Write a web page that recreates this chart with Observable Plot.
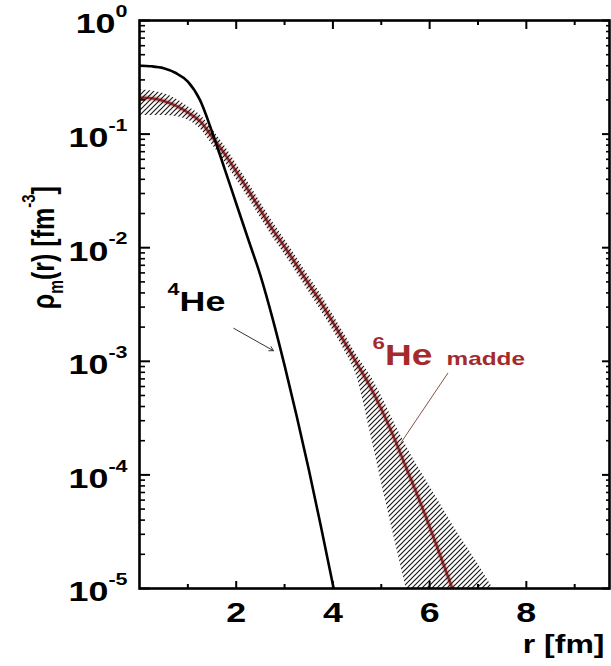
<!DOCTYPE html>
<html>
<head>
<meta charset="utf-8">
<script src="https://cdn.jsdelivr.net/npm/d3@7"></script>
<script src="https://cdn.jsdelivr.net/npm/@observablehq/plot@0.6"></script>
<style>
  body { margin: 0; background: #fff; }
  #chart svg { display: block; }
</style>
</head>
<body>
<div id="chart"></div>
<script>
// Matter density of 4He (r in fm, rho in fm^-3)
const he4R   = [0, 0.25, 0.5, 0.75, 1.0, 1.25, 1.5, 1.75, 2.0, 2.25, 2.5, 2.75, 3.0, 3.25, 3.5, 3.75, 4.0, 4.25];
const he4Rho = [0.40, 0.395, 0.38, 0.345, 0.29, 0.20, 0.105, 0.051, 0.0245, 0.0118, 0.0057, 0.0024,
                0.00092, 0.00033, 0.000112, 0.0000355, 0.0000108, 0.0000031];

// Matter density of 6He
const he6R   = [0, 0.25, 0.5, 0.75, 1.0, 1.25, 1.5, 1.75, 2.0, 2.25, 2.5, 2.75, 3.0, 3.25,
                3.5, 3.75, 4.0, 4.25, 4.5, 4.75, 5.0, 5.25, 5.5, 5.75, 6.0, 6.25, 6.5, 6.75];
const he6Rho = [0.21, 0.207, 0.196, 0.178, 0.155, 0.13, 0.095, 0.068, 0.047, 0.032, 0.0215, 0.0145,
                0.0102, 0.0070, 0.0048, 0.0033, 0.0022, 0.00145, 0.00095, 0.00062, 0.00038, 0.00022,
                0.00012, 0.000066, 0.000035, 0.000018, 0.0000092, 0.0000047];

// Uncertainty band of the 6He density
const bandR  = [0, 0.25, 0.5, 0.75, 1.0, 1.25, 1.5, 1.75, 2.0, 2.25, 2.5, 2.75, 3.0, 3.25, 3.5, 3.75,
                4.0, 4.25, 4.5, 4.75, 5.0, 5.25, 5.5, 5.75, 6.0, 6.25, 6.5, 6.75, 7.0, 7.25, 7.5];
const bandLo = [0.145, 0.146, 0.146, 0.143, 0.133, 0.112, 0.081, 0.058, 0.040, 0.0274, 0.0184, 0.0124,
                0.0087, 0.0060, 0.0041, 0.0028, 0.00188, 0.00122, 0.00072, 0.00026, 0.000087, 0.00003,
                0.0000107, 0.0000037, 0.0000013, 4.5e-7, 1.5e-7, 5e-8, 1.7e-8, 6e-9, 2e-9];
const bandHi = [0.245, 0.24, 0.228, 0.205, 0.175, 0.148, 0.111, 0.080, 0.055, 0.0374, 0.0252, 0.0170,
                0.0119, 0.0082, 0.0056, 0.0039, 0.00258, 0.0017, 0.00112, 0.00078, 0.0005, 0.0003,
                0.000185, 0.00012, 0.00008, 0.000053, 0.000035, 0.000024, 0.0000165, 0.000011, 0.0000076];

// Axis ticks
const xMajor = [2, 4, 6, 8];
const xMinor = [1, 3, 5, 7, 9];
const yMajor = [1e-5, 1e-4, 1e-3, 1e-2, 1e-1, 1];
const yMinor = [-5, -4, -3, -2, -1].flatMap(e => [2, 3, 4, 5, 6, 7, 8, 9].map(k => k * 10 ** e));

const he4 = he4R.map((r, i) => ({r, rho: he4Rho[i]}));
const he6 = he6R.map((r, i) => ({r, rho: he6Rho[i]}));
const band = bandR.map((r, i) => ({r, lo: bandLo[i], hi: bandHi[i]}));

const red = "#a52a2c";
const noLabel = () => "";
const curve = "monotone-x";

const chart = Plot.plot({
  width: 611,
  height: 666,
  marginLeft: 139,
  marginRight: 2,
  marginTop: 20,
  marginBottom: 78,
  style: {fontFamily: "'Liberation Sans', Arial, sans-serif", background: "#fff", color: "#000"},
  x: {domain: [0, 9.72], axis: null},
  y: {type: "log", domain: [1e-5, 1], axis: null},
  marks: [
    // 6He density with soft halo
    Plot.line(he6, {x: "r", y: "rho", curve, stroke: "#e9a3a3", strokeWidth: 6, strokeOpacity: 0.55, clip: true}),
    Plot.line(he6, {x: "r", y: "rho", curve, stroke: red, strokeWidth: 2.6, clip: true}),
    // hatched uncertainty band
    Plot.areaY(band, {x: "r", y1: "lo", y2: "hi", curve, fill: "url(#hatch)", clip: true}),
    // 4He density
    Plot.line(he4, {x: "r", y: "rho", curve, stroke: "#000", strokeWidth: 2.6, clip: true}),

    // annotations
    Plot.text(["^{4}He"], {x: 0.58, y: 2.75e-3, textAnchor: "start", lineAnchor: "bottom",
      fontSize: 28, fontWeight: "bold", fill: "#000"}),
    Plot.arrow([0], {x1: 1.95, y1: 1.95e-3, x2: 2.77, y2: 1.24e-3, stroke: "#333",
      strokeWidth: 1, headLength: 7}),
    Plot.text(["^{6}He"], {x: 4.82, y: 9.2e-4, textAnchor: "start", lineAnchor: "bottom",
      fontSize: 29, fontWeight: "bold", fill: red}),
    Plot.text(["madde"], {x: 6.35, y: 9.2e-4, textAnchor: "start", lineAnchor: "bottom",
      fontSize: 19, fontWeight: "bold", fill: red}),
    Plot.link([0], {x1: 6.38, y1: 7.9e-4, x2: 5.40, y2: 1.9e-4, stroke: "#8a5148", strokeWidth: 1}),

    // frame and inward ticks
    Plot.frame({stroke: "#000", strokeWidth: 2.6}),
    Plot.axisX(xMajor, {anchor: "bottom", tickSize: -7, tickFormat: noLabel, strokeWidth: 2, label: null}),
    Plot.axisX(xMinor, {anchor: "bottom", tickSize: -4, tickFormat: noLabel, strokeWidth: 2, label: null}),
    Plot.axisX(xMajor, {anchor: "top", tickSize: -8, tickFormat: noLabel, strokeWidth: 2, label: null}),
    Plot.axisX(xMinor, {anchor: "top", tickSize: -4, tickFormat: noLabel, strokeWidth: 2, label: null}),
    Plot.axisY(yMajor, {anchor: "left", tickSize: -11, tickFormat: noLabel, strokeWidth: 2, label: null}),
    Plot.axisY(yMinor, {anchor: "left", tickSize: -6, tickFormat: noLabel, strokeWidth: 1.6, label: null}),
    Plot.axisY(yMajor, {anchor: "right", tickSize: -8, tickFormat: noLabel, strokeWidth: 2, label: null}),
    Plot.axisY(yMinor, {anchor: "right", tickSize: -4, tickFormat: noLabel, strokeWidth: 1.6, label: null}),

    // tick labels
    Plot.axisX(xMajor, {anchor: "bottom", tickSize: 0, tickPadding: 14, fontSize: 28,
      fontWeight: "bold", label: null}),
    Plot.axisY(yMajor, {anchor: "left", tickSize: 0, tickPadding: 12, dy: 4, fontSize: 28,
      fontWeight: "bold", label: null, tickFormat: d => `10^{${Math.round(Math.log10(d))}}`}),

    // axis titles
    Plot.text(["r [fm]"], {frameAnchor: "bottom-right", dx: -5, dy: 64, textAnchor: "end",
      lineAnchor: "bottom", fontSize: 25, fontWeight: "bold"}),
    Plot.text([0.01], {y: d => d, frameAnchor: "left", text: () => "ρ_{m}(r) [fm^{-3}]", rotate: -90,
      dx: -86, textAnchor: "middle", lineAnchor: "bottom", fontSize: 25, fontWeight: "bold"})
  ]
});

document.getElementById("chart").append(chart);

// diagonal hatch pattern used by the band
const ns = "http://www.w3.org/2000/svg";
const defs = document.createElementNS(ns, "defs");
const pattern = document.createElementNS(ns, "pattern");
pattern.setAttribute("id", "hatch");
pattern.setAttribute("patternUnits", "userSpaceOnUse");
pattern.setAttribute("width", "5");
pattern.setAttribute("height", "5");
const hatchPath = document.createElementNS(ns, "path");
hatchPath.setAttribute("d", "M-1,1 l2,-2 M0,5 l5,-5 M4,6 l2,-2");
hatchPath.setAttribute("stroke", "#1a1a1a");
hatchPath.setAttribute("stroke-width", "1.2");
pattern.append(hatchPath);
defs.append(pattern);
chart.insertBefore(defs, chart.firstChild);

// superscripts ^{..} and subscripts _{..} inside text labels
function richText(svg) {
  for (const el of svg.querySelectorAll("text")) {
    const src = el.textContent;
    if (!/[\^_]\{/.test(src)) continue;
    const fs = parseFloat(getComputedStyle(el).fontSize) || 12;
    const parts = [];
    const re = /([\^_])\{([^}]*)\}/g;
    let last = 0, m;
    while ((m = re.exec(src))) {
      if (m.index > last) parts.push({t: src.slice(last, m.index), mode: ""});
      parts.push({t: m[2], mode: m[1]});
      last = re.lastIndex;
    }
    if (last < src.length) parts.push({t: src.slice(last), mode: ""});
    el.textContent = "";
    let shift = 0;
    for (const p of parts) {
      const ts = document.createElementNS(ns, "tspan");
      let target = 0;
      if (p.mode === "^") { target = -0.58 * fs; ts.setAttribute("font-size", 0.6 * fs); }
      if (p.mode === "_") { target = 0.3 * fs; ts.setAttribute("font-size", 0.62 * fs); }
      const d = target - shift;
      if (d !== 0) ts.setAttribute("dy", d);
      shift = target;
      ts.textContent = p.t;
      el.append(ts);
    }
  }
}
richText(chart);

// wide lettering: stretch every label horizontally about its anchor point
const stretch = 1.28;
for (const el of chart.querySelectorAll("text")) {
  const t = el.getAttribute("transform");
  if (t) {
    el.setAttribute("transform", /rotate\(/.test(t)
      ? t.replace(/rotate\(/, `scale(${stretch},1) rotate(`)
      : `${t} scale(${stretch},1)`);
  } else {
    const x = +el.getAttribute("x") || 0, y = +el.getAttribute("y") || 0;
    el.setAttribute("transform", `translate(${x},${y}) scale(${stretch},1) translate(${-x},${-y})`);
  }
}
</script>
</body>
</html>
